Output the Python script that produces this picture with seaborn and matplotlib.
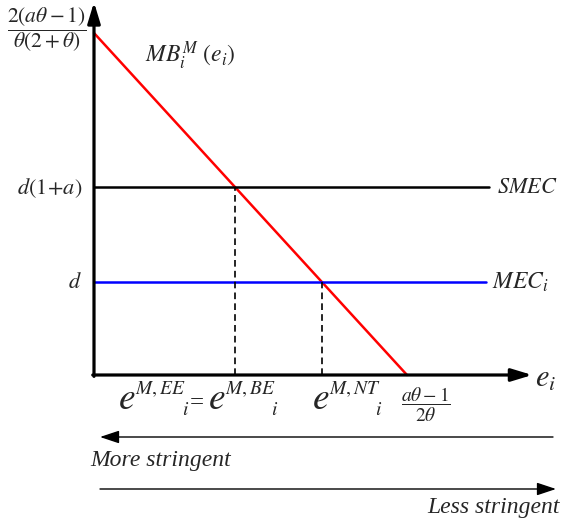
import matplotlib
matplotlib.use('Agg')
import matplotlib.pyplot as plt
import seaborn as sns
from matplotlib.transforms import Affine2D

# diagram values (units: MB intercept = 1 on the price axis, MB zero point = 1 on e_i)
mb_intercept = 1.0
mb_zero = 1.0
smec_level = 0.55
mec_level = 0.272
smec_end = 1.262
mec_end = 1.252
x_axis_end = 1.4
y_axis_end = 1.09

sns.set_style('white')
plt.rcParams['font.family'] = ['Liberation Serif', 'DejaVu Serif']
plt.rcParams['mathtext.fontset'] = 'stix'

W, H = 563, 525
fig = plt.figure(figsize=(W / 100, H / 100), dpi=100)
ax = fig.add_axes([0, 0, 1, 1])
sx, sy = 313.0, 342.0
ox, oy = 94.0, 375.0
ax.set_xlim(-ox / sx, (W - ox) / sx)
ax.set_ylim(-(H - oy) / sy, oy / sy)
ax.axis('off')

# pixel transform for labels (origin top-left)
pix = Affine2D().scale(1 / W, -1 / H).translate(0, 1) + fig.transFigure


def t(x, y, s, size, **kw):
    kw.setdefault('va', 'baseline')
    ax.text(x, y, s, fontsize=size, transform=pix, **kw)


# axes with arrow heads
axis_arrow = dict(arrowstyle='-|>,head_length=1.25,head_width=0.38', lw=2.3,
                  color='black', shrinkA=0, shrinkB=0, mutation_scale=10)
ax.annotate('', xy=(x_axis_end, 0), xytext=(-0.004, 0), arrowprops=axis_arrow)
ax.annotate('', xy=(0, y_axis_end), xytext=(0, -0.004), arrowprops=axis_arrow)

# MB curve and cost lines
sns.lineplot(x=[0, mb_zero], y=[mb_intercept, 0], color='red', lw=1.8, ax=ax)
sns.lineplot(x=[0, smec_end], y=[smec_level, smec_level], color='black', lw=1.8, ax=ax)
sns.lineplot(x=[0, mec_end], y=[mec_level, mec_level], color='blue', lw=1.8, ax=ax)

e_be = mb_zero * (1 - smec_level / mb_intercept)
e_nt = mb_zero * (1 - mec_level / mb_intercept)
for xe, lvl in [(e_be, smec_level), (e_nt, mec_level)]:
    ax.plot([xe, xe], [0, lvl], color='black', lw=1.2, ls=(0, (4, 2.5)))

# left and right labels
t(47, 30, r'$\dfrac{2(a\theta-1)}{\theta(2+\theta)}$', 15.5, ha='center', va='center')
t(145, 63, r'$MB_i^M\ (e_i)$', 17)
t(82, 194, r'$d(1\!+\!a)$', 16, ha='right')
t(82, 288, r'$d$', 16, ha='right')
t(497, 193, r'$SMEC$', 16)
t(492, 289, r'$MEC_i$', 17)
t(535, 387, r'$e_i$', 22)

# bottom labels
for ex, sup, ix in [(118, 'M,EE', 182), (208, 'M,BE', 271), (312, 'M,NT', 375)]:
    t(ex, 409, r'$e$', 27)
    t(ex + 17, 394, r'$' + sup + '$', 14)
    t(ix, 415, r'$i$', 14)
t(190, 409, '=', 18)
t(426, 405, r'$\dfrac{a\theta-1}{2\theta}$', 14, ha='center', va='center')

# stringency arrows
thin = dict(arrowstyle='-|>,head_length=0.9,head_width=0.3', lw=1.0,
            color='black', shrinkA=0, shrinkB=0, mutation_scale=13)
ax.annotate('', xy=(100, 437), xytext=(553, 437), xycoords=pix, textcoords=pix, arrowprops=thin)
ax.annotate('', xy=(556, 489), xytext=(100, 489), xycoords=pix, textcoords=pix, arrowprops=thin)
t(90, 466, 'More stringent', 17, style='italic')
t(560, 513, 'Less stringent', 17, style='italic', ha='right')

fig.savefig('out.png', dpi=100)
